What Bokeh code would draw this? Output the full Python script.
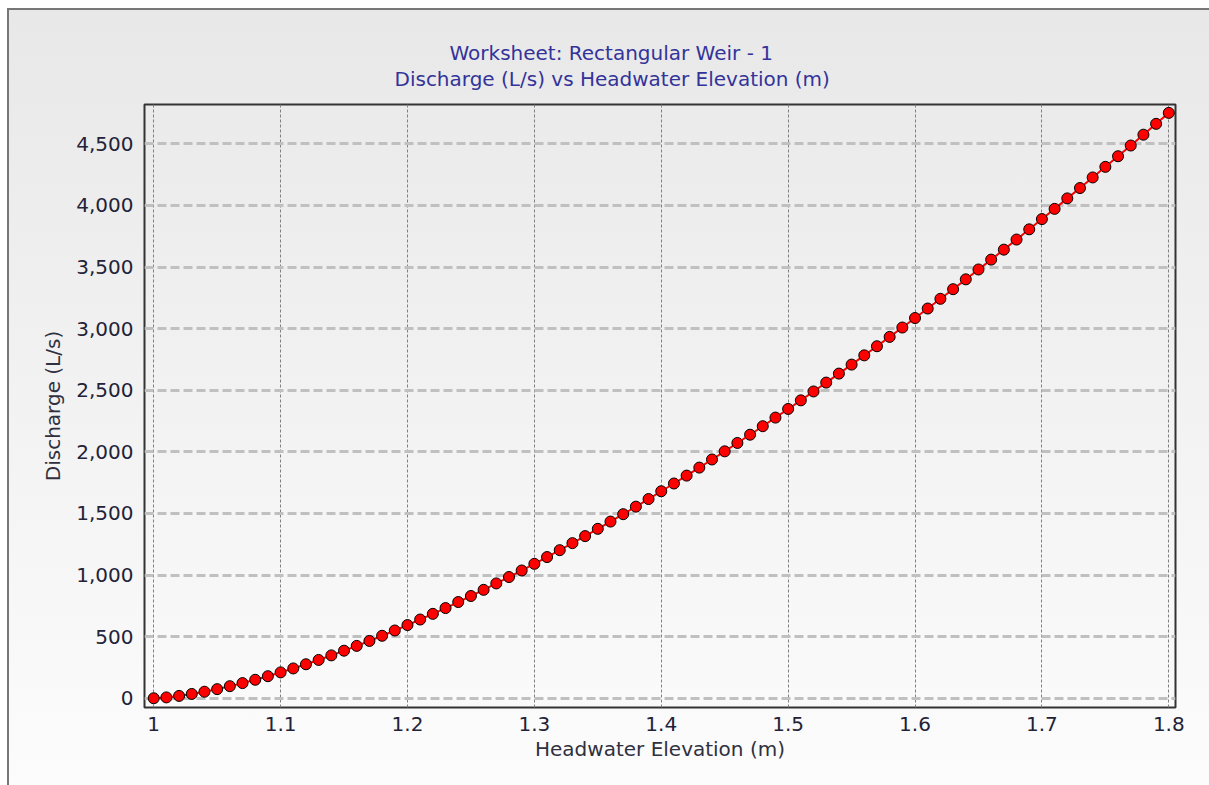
from bokeh.plotting import figure
from bokeh.models import FixedTicker, NumeralTickFormatter, Range1d, Title
from bokeh.embed import file_html
from bokeh.resources import INLINE

# Headwater elevation (m)
elevation = [1.00, 1.01, 1.02, 1.03, 1.04, 1.05, 1.06, 1.07, 1.08, 1.09,
             1.10, 1.11, 1.12, 1.13, 1.14, 1.15, 1.16, 1.17, 1.18, 1.19,
             1.20, 1.21, 1.22, 1.23, 1.24, 1.25, 1.26, 1.27, 1.28, 1.29,
             1.30, 1.31, 1.32, 1.33, 1.34, 1.35, 1.36, 1.37, 1.38, 1.39,
             1.40, 1.41, 1.42, 1.43, 1.44, 1.45, 1.46, 1.47, 1.48, 1.49,
             1.50, 1.51, 1.52, 1.53, 1.54, 1.55, 1.56, 1.57, 1.58, 1.59,
             1.60, 1.61, 1.62, 1.63, 1.64, 1.65, 1.66, 1.67, 1.68, 1.69,
             1.70, 1.71, 1.72, 1.73, 1.74, 1.75, 1.76, 1.77, 1.78, 1.79,
             1.80]

# Discharge (L/s)
discharge = [0, 7, 19, 35, 53, 74, 98, 123, 150, 179,
             210, 242, 276, 311, 348, 386, 425, 465, 507, 550,
             594, 639, 685, 732, 781, 830, 880, 932, 984, 1037,
             1091, 1146, 1202, 1259, 1316, 1375, 1434, 1494, 1555, 1617,
             1680, 1743, 1807, 1872, 1938, 2004, 2072, 2139, 2208, 2278,
             2348, 2418, 2490, 2562, 2635, 2708, 2783, 2857, 2933, 3009,
             3086, 3163, 3242, 3320, 3400, 3480, 3560, 3641, 3723, 3806,
             3889, 3972, 4057, 4141, 4227, 4313, 4399, 4486, 4574, 4662,
             4751]

x_ticks = [1.0, 1.1, 1.2, 1.3, 1.4, 1.5, 1.6, 1.7, 1.8]
y_ticks = [0, 500, 1000, 1500, 2000, 2500, 3000, 3500, 4000, 4500]

title_line1 = "Worksheet: Rectangular Weir - 1"
title_line2 = "Discharge (L/s) vs Headwater Elevation (m)"
x_label = "Headwater Elevation (m)"
y_label = "Discharge (L/s)"

FONT = "DejaVu Sans"

p = figure(width=1202, height=777, output_backend="svg", toolbar_location=None,
           title=None,
           x_range=Range1d(0.99275, 1.80528), y_range=Range1d(-75, 4819),
           min_border_left=137, min_border_right=34, min_border_top=96, min_border_bottom=78)

p.styles = {"background": "linear-gradient(#e8e8e8, #fcfcfc)",
            "box-shadow": "inset 2px 2px 0 #777777",
            "margin-left": "7px", "margin-top": "8px"}
p.background_fill_alpha = 0
p.border_fill_alpha = 0
p.outline_line_color = "#333333"
p.outline_line_width = 2

# spacer between frame and the two title lines
p.add_layout(Title(text=" ", text_font_size="1px", standoff=11), "above")
p.add_layout(Title(text=title_line2, align="left", offset=250, standoff=0, text_font=FONT,
                   text_font_size="20px", text_font_style="normal", text_color="#33339a"), "above")
p.add_layout(Title(text=title_line1, align="left", offset=305, standoff=0, text_font=FONT,
                   text_font_size="20px", text_font_style="normal", text_color="#33339a"), "above")

for ax in (p.xaxis[0], p.yaxis[0]):
    ax.axis_line_color = None
    ax.major_tick_line_color = None
    ax.minor_tick_line_color = None
    ax.major_tick_out = 0
    ax.major_tick_in = 0
    ax.major_label_text_font = FONT
    ax.major_label_text_font_size = "20px"
    ax.major_label_text_color = "#222238"
    ax.axis_label_text_font = FONT
    ax.axis_label_text_font_size = "20px"
    ax.axis_label_text_font_style = "normal"
    ax.axis_label_text_color = "#303040"

p.xaxis.ticker = FixedTicker(ticks=x_ticks)
p.yaxis.ticker = FixedTicker(ticks=y_ticks)
p.xaxis.formatter = NumeralTickFormatter(format="0.[0]")
p.yaxis.formatter = NumeralTickFormatter(format="0,0")
p.xaxis.axis_label = x_label
p.yaxis.axis_label = y_label
p.xaxis.major_label_standoff = 9
p.yaxis.major_label_standoff = 11
p.xaxis.axis_label_standoff = 3
p.yaxis.axis_label_standoff = 8

p.xgrid.ticker = FixedTicker(ticks=x_ticks)
p.ygrid.ticker = FixedTicker(ticks=y_ticks)
p.xgrid.grid_line_color = "#808080"
p.xgrid.grid_line_width = 1
p.xgrid.grid_line_dash = "3 2"
p.ygrid.grid_line_color = "#c0c0c0"
p.ygrid.grid_line_width = 3
p.ygrid.grid_line_dash = "9 4"

p.line(elevation, discharge, line_color="#ff0000", line_width=2)
p.scatter(elevation, discharge, size=11, fill_color="#ff0000", line_color="#000000", line_width=1)

open("out.html", "w").write(file_html(p, INLINE))
